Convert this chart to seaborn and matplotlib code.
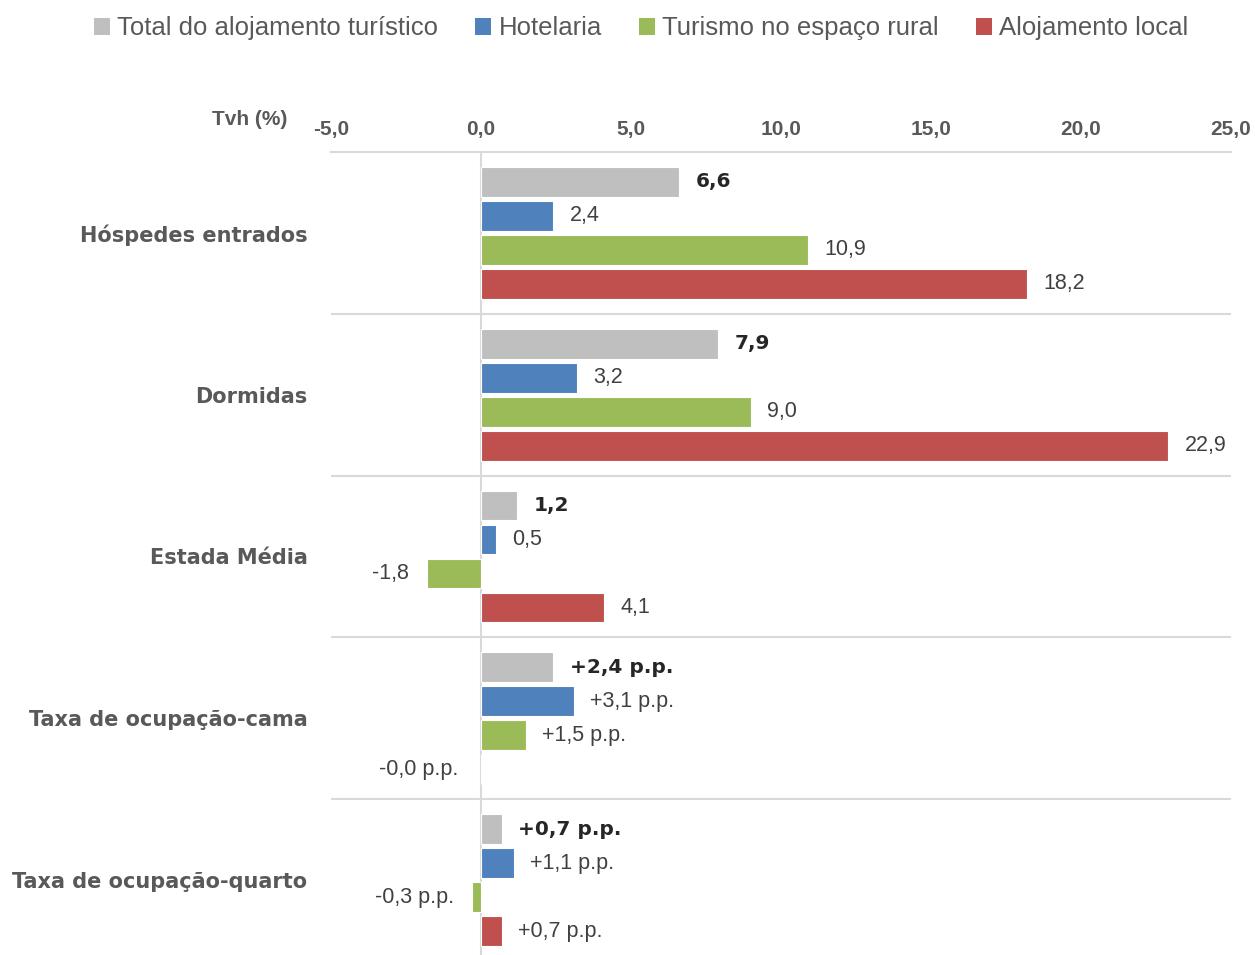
import matplotlib
matplotlib.use("Agg")
import matplotlib.pyplot as plt
import seaborn as sns
import pandas as pd
from matplotlib.patches import Patch
from matplotlib.ticker import FuncFormatter

# dados (Tvh %)
categorias = ["Hóspedes entrados", "Dormidas", "Estada Média",
              "Taxa de ocupação-cama", "Taxa de ocupação-quarto"]
series = ["Total do alojamento turístico", "Hotelaria",
          "Turismo no espaço rural", "Alojamento local"]
total = [6.6, 7.9, 1.2, 2.4, 0.7]
hotelaria = [2.4, 3.2, 0.5, 3.1, 1.1]
rural = [10.9, 9.0, -1.8, 1.5, -0.3]
local = [18.2, 22.9, 4.1, -0.01, 0.7]
em_pp = [False, False, False, True, True]  # linhas em pontos percentuais

cores = ["#BFBFBF", "#4F81BD", "#9BBB59", "#C0504D"]

linhas = []
for nome, vals in zip(series, [total, hotelaria, rural, local]):
    for cat, v in zip(categorias, vals):
        linhas.append({"cat": cat, "serie": nome, "val": v})
df = pd.DataFrame(linhas)

sns.set_theme(style="white")
plt.rcParams["font.family"] = ["Liberation Sans", "DejaVu Sans"]

fig = plt.figure(figsize=(12.55, 9.55), dpi=100)
ax = fig.add_axes([331 / 1255, -6 / 955, 900 / 1255, 809 / 955])

sns.barplot(data=df, y="cat", x="val", hue="serie", orient="h",
            order=categorias, hue_order=series, palette=cores, saturation=1,
            width=0.84, gap=0.12, edgecolor="white", linewidth=0.8,
            ax=ax, legend=False)

ax.set_xlim(-5, 25)
ax.set_ylim(4.5, -0.5)
ax.xaxis.tick_top()
ax.set_xticks(range(-5, 26, 5))
ax.xaxis.set_major_formatter(FuncFormatter(lambda v, p: f"{v:.1f}".replace(".", ",")))
ax.tick_params(axis="x", length=0, pad=9, labelsize=15, labelcolor="#595959")
for t in ax.get_xticklabels():
    t.set_fontweight("bold")
ax.tick_params(axis="y", length=0, pad=17, labelcolor="#595959")
for t in ax.get_yticklabels():
    t.set_fontweight("bold")
    t.set_family(["DejaVu Sans"])
    t.set_fontsize(15)
ax.set_xlabel("")
ax.set_ylabel("")

for s in ["left", "right", "bottom"]:
    ax.spines[s].set_visible(False)
ax.spines["top"].set_color("#D9D9D9")
ax.spines["top"].set_linewidth(1.5)

# separadores entre categorias e eixo do zero
for y in [0.5, 1.5, 2.5, 3.5]:
    ax.axhline(y, color="#D9D9D9", lw=1.5, zorder=0)
ax.axvline(0, color="#D9D9D9", lw=1.5, zorder=0)

# rótulos dos valores
for i, cont in enumerate(ax.containers):
    for j, bar in enumerate(cont):
        v = bar.get_width()
        y = bar.get_y() + bar.get_height() / 2
        if em_pp[j]:
            txt = f"{v:+.1f}".replace(".", ",") + " p.p."
        else:
            txt = f"{v:.1f}".replace(".", ",")
        if v >= 0:
            x, ha = v + 0.55, "left"
        else:
            x, ha = min(v, -0.15) - 0.6, "right"
        if i == 0:
            ax.text(x, y, txt, ha=ha, va="center", fontsize=14.5,
                    fontweight="heavy", color="#262626",
                    family=["DejaVu Sans"])
        else:
            ax.text(x, y, txt, ha=ha, va="center", fontsize=15.5,
                    color="#404040")

fig.text(287 / 1255, 1 - 119 / 955, "Tvh (%)", ha="right", va="center",
         fontsize=15, fontweight="bold", color="#595959")

handles = [Patch(facecolor=c, edgecolor="none") for c in cores]
fig.legend(handles, series, loc="upper center", bbox_to_anchor=(0.511, 1.007),
           ncol=4, frameon=False, handlelength=0.6, handleheight=0.6,
           handletextpad=0.3, columnspacing=1.45,
           prop={"family": ["Liberation Sans Narrow", "Liberation Sans", "DejaVu Sans"],
                 "size": 18.5}, labelcolor="#595959")

fig.savefig("out.png", dpi=100)
